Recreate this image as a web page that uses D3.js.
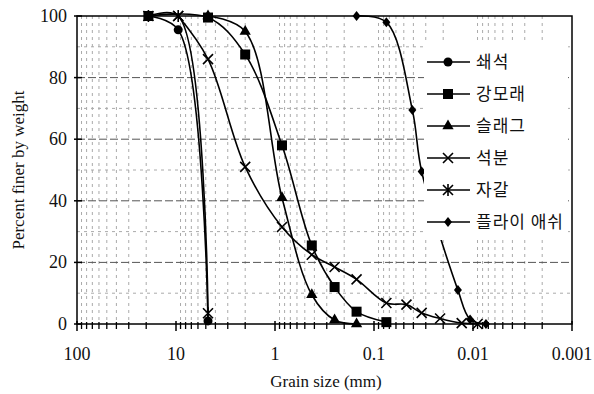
<!DOCTYPE html>
<meta charset="utf-8">
<style>
body { margin: 0; background: #fff; }
text { font-family: "Liberation Serif", "DejaVu Serif", "Times New Roman", serif; fill: #111; }
.legend text { font-family: "Noto Sans CJK KR", sans-serif; font-size: 17px; letter-spacing: 1px; }
.grid line { stroke: #aaa; stroke-width: 1; stroke-dasharray: 3,4; }
.grid .major { stroke: #555; stroke-dasharray: 8,3; }
.curve { fill: none; stroke: #000; stroke-width: 1.6; }
</style>
<svg width="594" height="394"></svg>
<script src="https://d3js.org/d3.v7.min.js"></script>
<script>

// grain size (mm) / percent finer
var names = ["쇄석", "강모래", "슬래그", "석분", "자갈", "플라이 애쉬"];
var symbols = ["circle", "square", "triangle", "cross", "asterisk", "diamond"];

var crushed = [[19, 100], [9.5, 95.5], [4.75, 1]];
var sand = [[19, 100], [4.75, 99.5], [2.0, 87.5], [0.85, 58], [0.425, 25.5], [0.25, 12], [0.15, 4], [0.075, 0.6]];
var slag = [[4.75, 100], [2.0, 95], [0.85, 41], [0.425, 9.5], [0.25, 1.3], [0.15, 0]];
var stone = [[9.5, 100], [4.75, 86], [2.0, 51], [0.85, 31.5], [0.425, 22.5], [0.25, 18.5], [0.15, 14.5],
             [0.075, 6.8], [0.047, 6.3], [0.033, 3.6], [0.0215, 1.8], [0.013, 0.3], [0.009, 0]];
var gravel = [[19, 100], [9.5, 100], [4.75, 3.5]];
var flyash = [[0.15, 100], [0.075, 98], [0.041, 69.5], [0.033, 49.5], [0.0142, 11], [0.0107, 1.5], [0.0074, 0]];

var seriesData = [crushed, sand, slag, stone, gravel, flyash];
var xTicks = [100, 10, 1, 0.1, 0.01, 0.001];
var yTicks = [0, 20, 40, 60, 80, 100];

var svg = d3.select("svg");
var mLeft = 77, mRight = 572, mTop = 16, mBottom = 324;

var x = d3.scaleLog().domain([100, 0.001]).range([mLeft, mRight]);
var y = d3.scaleLinear().domain([0, 100]).range([mBottom, mTop]);

// minor values in each decade
var minor = [];
for (var e = -3; e < 2; e++) {
  for (var k = 2; k <= 9; k++) minor.push(k * Math.pow(10, e));
}

var grid = svg.append("g").attr("class", "grid");
grid.selectAll("line.v").data(minor).enter().append("line")
  .attr("x1", d => x(d)).attr("x2", d => x(d))
  .attr("y1", mTop).attr("y2", mBottom);
grid.selectAll("line.h").data(d3.range(10, 100, 10)).enter().append("line")
  .attr("class", d => d % 20 === 0 ? "major" : null)
  .attr("x1", mLeft).attr("x2", mRight)
  .attr("y1", d => y(d)).attr("y2", d => y(d));

// frame
svg.append("rect")
  .attr("x", mLeft).attr("y", mTop)
  .attr("width", mRight - mLeft).attr("height", mBottom - mTop)
  .attr("fill", "none").attr("stroke", "#000").attr("stroke-width", 1.5);

// x ticks
var xAxis = svg.append("g");
xAxis.selectAll("line.minor").data(minor).enter().append("line")
  .attr("x1", d => x(d)).attr("x2", d => x(d))
  .attr("y1", mBottom - 2).attr("y2", mBottom + 5)
  .attr("stroke", "#000").attr("stroke-width", 1.3);
xAxis.selectAll("line.major").data(xTicks).enter().append("line")
  .attr("x1", d => x(d)).attr("x2", d => x(d))
  .attr("y1", mBottom - 3).attr("y2", mBottom + 7)
  .attr("stroke", "#000").attr("stroke-width", 1.5);
xAxis.selectAll("text").data(xTicks).enter().append("text")
  .attr("x", d => x(d)).attr("y", mBottom + 36)
  .attr("text-anchor", "middle").attr("font-size", 18)
  .text(d => d3.format("~g")(d));

// y ticks
var yAxis = svg.append("g");
yAxis.selectAll("line").data(yTicks).enter().append("line")
  .attr("x1", mLeft - 3).attr("x2", mLeft + 5)
  .attr("y1", d => y(d)).attr("y2", d => y(d))
  .attr("stroke", "#000").attr("stroke-width", 1.5);
yAxis.selectAll("text").data(yTicks).enter().append("text")
  .attr("x", mLeft - 10).attr("y", d => y(d) + 6)
  .attr("text-anchor", "end").attr("font-size", 18)
  .text(d => d);

svg.append("text")
  .attr("x", 326).attr("y", 387).attr("text-anchor", "middle")
  .attr("font-size", 17).text("Grain size (mm)");
svg.append("text")
  .attr("transform", "translate(24," + ((mTop + mBottom) / 2) + ") rotate(-90)")
  .attr("text-anchor", "middle").attr("font-size", 17)
  .text("Percent finer by weight");

var line = d3.line()
  .x(d => x(d[0])).y(d => y(d[1]))
  .curve(d3.curveCatmullRom.alpha(0.5));

function marker(g, type) {
  if (type === "circle") {
    g.append("circle").attr("r", 4.5).attr("fill", "#000");
  } else if (type === "square") {
    g.append("rect").attr("x", -5).attr("y", -5).attr("width", 10).attr("height", 10).attr("fill", "#000");
  } else if (type === "triangle") {
    g.append("path").attr("d", d3.symbol(d3.symbolTriangle, 55)()).attr("fill", "#000");
  } else if (type === "diamond") {
    g.append("path").attr("d", "M0,-5L4,0L0,5L-4,0Z").attr("fill", "#000");
  } else if (type === "cross") {
    g.append("path").attr("d", "M-5,-5L5,5M-5,5L5,-5").attr("fill", "none")
      .attr("stroke", "#000").attr("stroke-width", 1.6);
  } else if (type === "asterisk") {
    g.append("path").attr("d", "M-5,-5L5,5M-5,5L5,-5M0,-6L0,6").attr("fill", "none")
      .attr("stroke", "#000").attr("stroke-width", 1.6);
  }
}

var series = svg.append("g");
seriesData.forEach(function(data, i) {
  var g = series.append("g");
  g.append("path").attr("class", "curve").attr("d", line(data));
  g.selectAll("g.pt").data(data).enter().append("g")
    .attr("transform", d => "translate(" + x(d[0]) + "," + y(d[1]) + ")")
    .each(function() { marker(d3.select(this), symbols[i]); });
});

// legend
var legend = svg.append("g").attr("class", "legend");
legend.append("rect")
  .attr("x", 424).attr("y", 42).attr("width", 144).attr("height", 198)
  .attr("fill", "#fff");
names.forEach(function(name, i) {
  var ly = 62 + i * 32;
  var g = legend.append("g");
  g.append("line").attr("x1", 427).attr("x2", 470).attr("y1", ly).attr("y2", ly)
    .attr("stroke", "#000").attr("stroke-width", 1.6);
  var m = g.append("g").attr("transform", "translate(448," + ly + ")");
  marker(m, symbols[i]);
  g.append("text").attr("x", 476).attr("y", ly + 6).text(name);
});

</script>
